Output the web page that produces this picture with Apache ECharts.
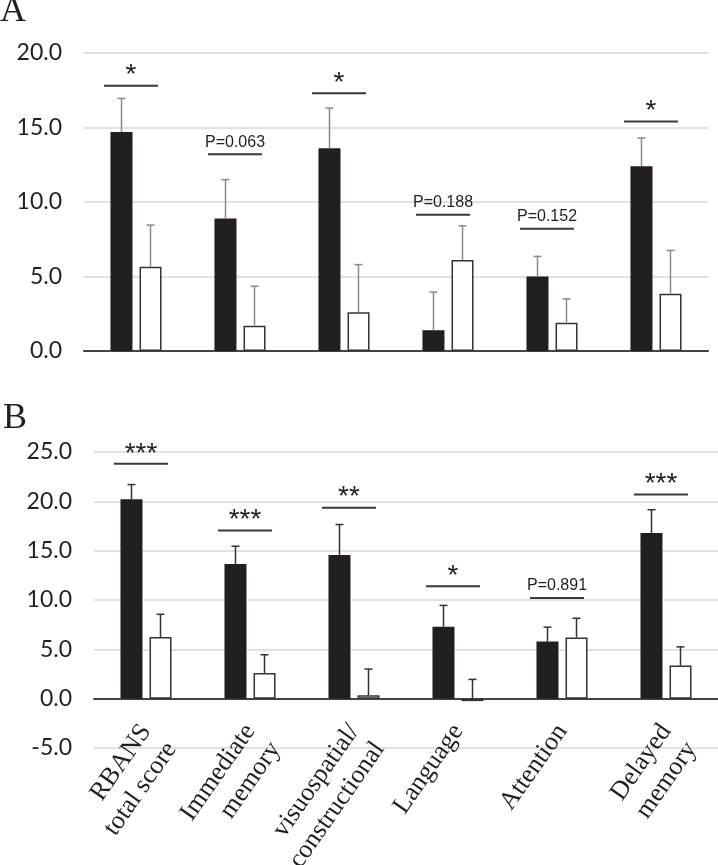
<!DOCTYPE html>
<html><head><meta charset="utf-8">
<script src="https://cdn.jsdelivr.net/npm/echarts@6/dist/echarts.min.js"></script>
<style>html,body{margin:0;padding:0;background:#fff}#c{width:718px;height:865px}</style>
</head><body><div id="c"></div>
<script>
// ---- data ----
const categories = ['RBANS\ntotal score', 'Immediate\nmemory', 'visuospatial/\nconstructional', 'Language', 'Attention', 'Delayed\nmemory'];

const aTicks = [0, 5, 10, 15, 20];
const aBlack    = [14.7, 8.9, 13.6, 1.4, 5.0, 12.4];
const aBlackErr = [2.25, 2.6, 2.7, 2.55, 1.35, 1.9];
const aWhite    = [5.65, 1.7, 2.6, 6.1, 1.9, 3.85];
const aWhiteErr = [2.8, 2.65, 3.2, 2.3, 1.6, 2.9];
const aSigLevel = [17.8, 13.2, 17.3, 9.15, 8.2, 15.4];
const aSigText  = ['*', 'P=0.063', '*', 'P=0.188', 'P=0.152', '*'];

const bTicks = [-5, 0, 5, 10, 15, 20, 25];
const bBlack    = [20.2, 13.65, 14.55, 7.3, 5.8, 16.8];
const bBlackErr = [1.5, 1.8, 3.1, 2.15, 1.45, 2.35];
const bWhite    = [6.25, 2.6, 0.35, -0.25, 6.2, 3.35];
const bWhiteErr = [2.3, 1.85, 2.65, 2.2, 1.95, 1.9];
const bSigLevel = [23.8, 17.05, 19.35, 11.4, 10.2, 20.7];
const bSigText  = ['***', '***', '**', '*', 'P=0.891', '***'];

// ---- styling constants ----
const BAR_W = 22, BAR_OFF = 14.5, CAP = 4, SIG_HALF = 27, SIG_SHIFT = -5;
const BLACK = '#231f20';

function errRender(side, color) {
  return function (params, api) {
    const cat = api.value(0), v = api.value(1), e = api.value(2);
    const p0 = api.coord([cat, v]);
    const p1 = api.coord([cat, v + e]);
    const x = p0[0] + side * BAR_OFF;
    return { type: 'group', children: [
      { type: 'line', shape: { x1: x, y1: p0[1], x2: x, y2: p1[1] }, style: { stroke: color, lineWidth: 1.5 } },
      { type: 'line', shape: { x1: x - CAP, y1: p1[1], x2: x + CAP, y2: p1[1] }, style: { stroke: color, lineWidth: 1.5 } }
    ]};
  };
}
function sigRender(texts) {
  return function (params, api) {
    const p = api.coord([api.value(0), api.value(1)]);
    const x = p[0] + SIG_SHIFT, y = p[1];
    const t = texts[params.dataIndex];
    const isStar = t.indexOf('P') < 0;
    return { type: 'group', children: [
      { type: 'line', shape: { x1: x - SIG_HALF, y1: y, x2: x + SIG_HALF, y2: y }, style: { stroke: '#3a3a3a', lineWidth: 2 } },
      { type: 'text', x: x, y: isStar ? y + 4 : y - 4,
        style: { text: t, fill: '#231f20', align: 'center', verticalAlign: 'bottom',
                 font: isStar ? '28px "Liberation Sans"' : '16px "Liberation Sans"' } }
    ]};
  };
}
const triples = (v, e) => v.map((x, i) => [i, x, e[i]]);
const pairs = (v) => v.map((x, i) => [i, x]);

function yAxisCfg(grid, ticks) {
  return {
    type: 'value', gridIndex: grid, min: ticks[0], max: ticks[ticks.length - 1], interval: ticks[1] - ticks[0],
    axisLine: { show: false }, axisTick: { show: false },
    axisLabel: { formatter: v => v.toFixed(1), fontFamily: 'Lato', fontSize: 23, color: '#231f20', margin: 22 },
    splitLine: { lineStyle: { color: '#d9d9d9', width: 1.5 } }
  };
}
function barSeries(grid, data, fill) {
  return { type: 'bar', xAxisIndex: grid, yAxisIndex: grid, data: data, barWidth: BAR_W, barGap: '32%',
    itemStyle: { color: fill, borderColor: fill === '#fff' ? '#333' : BLACK, borderWidth: 1.5 }, silent: true, z: 2 };
}

const chart = echarts.init(document.getElementById('c'), null, { renderer: 'canvas' });
chart.setOption({
  animation: false,
  backgroundColor: '#fff',
  grid: [
    { left: 84, right: 10, top: 53, height: 298, outerBoundsMode: 'none', containLabel: false },
    { left: 94, right: 0, top: 452, height: 296, outerBoundsMode: 'none', containLabel: false }
  ],
  xAxis: [
    { type: 'category', gridIndex: 0, data: categories, axisTick: { show: false }, axisLabel: { show: false },
      axisLine: { lineStyle: { color: '#444', width: 2 } } },
    { type: 'category', gridIndex: 1, data: categories, axisTick: { show: false },
      axisLine: { onZero: true, lineStyle: { color: '#444', width: 2 } },
      axisLabel: { interval: 0, rotate: 55, margin: -21, fontFamily: 'Liberation Serif', fontSize: 26, lineHeight: 31, color: '#231f20',
        formatter: v => (v.indexOf('\n') >= 0 ? '\n' + v : v) } }
  ],
  yAxis: [ yAxisCfg(0, aTicks), yAxisCfg(1, bTicks) ],
  graphic: [
    { type: 'text', left: 0, top: -6, style: { text: 'A', font: '36px "Liberation Serif"', fill: '#231f20' } },
    { type: 'text', left: 3, top: 401, style: { text: 'B', font: '36px "Liberation Serif"', fill: '#231f20' } }
  ],
  series: [
    barSeries(0, aBlack, BLACK), barSeries(0, aWhite, '#fff'),
    { type: 'custom', xAxisIndex: 0, yAxisIndex: 0, data: triples(aBlack, aBlackErr), renderItem: errRender(-1, '#8a8a8a'), z: 3, silent: true },
    { type: 'custom', xAxisIndex: 0, yAxisIndex: 0, data: triples(aWhite, aWhiteErr), renderItem: errRender(1, '#8a8a8a'), z: 3, silent: true },
    { type: 'custom', xAxisIndex: 0, yAxisIndex: 0, data: pairs(aSigLevel), renderItem: sigRender(aSigText), z: 4, silent: true },
    barSeries(1, bBlack, BLACK), barSeries(1, bWhite, '#fff'),
    { type: 'custom', xAxisIndex: 1, yAxisIndex: 1, data: triples(bBlack, bBlackErr), renderItem: errRender(-1, '#333'), z: 3, silent: true },
    { type: 'custom', xAxisIndex: 1, yAxisIndex: 1, data: triples(bWhite, bWhiteErr), renderItem: errRender(1, '#333'), z: 3, silent: true },
    { type: 'custom', xAxisIndex: 1, yAxisIndex: 1, data: pairs(bSigLevel), renderItem: sigRender(bSigText), z: 4, silent: true }
  ]
});
</script></body></html>
